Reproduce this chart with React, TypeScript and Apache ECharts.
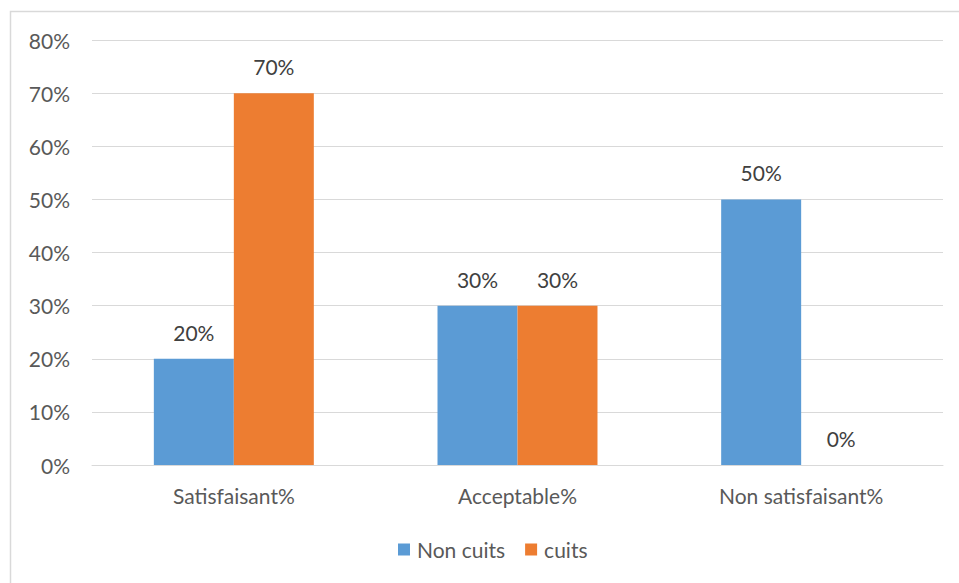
import React, { useEffect, useRef } from "react";
import * as echarts from "echarts";

const categories = ["Satisfaisant%", "Acceptable%", "Non satisfaisant%"];
const nonCuits = [20, 30, 50];
const cuits = [70, 30, 0];
const seriesNames = ["Non cuits", "cuits"];

export default function App() {
  const ref = useRef<HTMLDivElement>(null);
  useEffect(() => {
    if (!ref.current) return;
    const chart = echarts.init(ref.current, null, { renderer: "svg" });
    const font = "Lato, 'Open Sans', sans-serif";
    const fs = 21;
    const labelStyle = {
      show: true,
      position: "top" as const,
      distance: 16,
      formatter: (p: any) => p.value + "%",
      color: "#404040",
      fontSize: fs,
      fontFamily: font,
    };
    chart.setOption({
      animation: false,
      textStyle: { fontFamily: font },
      graphic: [
        {
          type: "rect",
          shape: { x: 10.5, y: 11.5, width: 1000, height: 700 },
          style: { fill: "none", stroke: "#d9d9d9", lineWidth: 1.5 },
          silent: true,
        },
      ],
      grid: { left: 92, right: 16, top: 40, bottom: 118, containLabel: false },
      legend: {
        data: seriesNames,
        bottom: 18,
        left: 393,
        itemWidth: 12,
        itemHeight: 12,
        itemGap: 20,
        icon: "rect",
        textStyle: { color: "#595959", fontSize: fs, fontFamily: font, padding: [0, 0, 0, 2] },
      },
      xAxis: {
        type: "category",
        data: categories,
        axisLine: { lineStyle: { color: "#d9d9d9", width: 1 } },
        axisTick: { show: false },
        axisLabel: { color: "#595959", fontSize: fs, margin: 20, fontFamily: font },
      },
      yAxis: {
        type: "value",
        min: 0,
        max: 80,
        interval: 10,
        axisLine: { show: false },
        axisTick: { show: false },
        splitLine: { lineStyle: { color: "#d9d9d9", width: 1 } },
        axisLabel: {
          color: "#595959",
          fontSize: fs,
          margin: 22,
          fontFamily: font,
          formatter: (v: number) => v + "%",
        },
      },
      series: [
        {
          name: seriesNames[0],
          type: "bar",
          data: nonCuits,
          itemStyle: { color: "#5B9BD5" },
          barGap: "0%",
          barCategoryGap: "43.6%",
          label: labelStyle,
        },
        {
          name: seriesNames[1],
          type: "bar",
          data: cuits,
          itemStyle: { color: "#ED7D31" },
          barGap: "0%",
          barCategoryGap: "43.6%",
          label: labelStyle,
        },
      ],
    });
    return () => chart.dispose();
  }, []);
  return (
    <div
      ref={ref}
      style={{ position: "fixed", left: 0, top: 0, width: 959, height: 583, background: "#fff" }}
    />
  );
}
